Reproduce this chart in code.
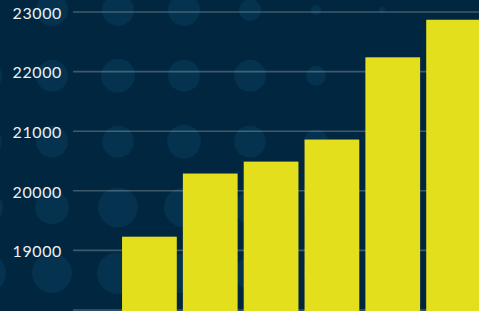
<!DOCTYPE html>
<html>
<head>
<meta charset="utf-8">
<script src="https://cdn.jsdelivr.net/npm/d3@7"></script>
<style>
  html, body { margin: 0; padding: 0; background: #01263f; }
  svg { display: block; }
</style>
</head>
<body>
<svg id="chart"></svg>
<script>
const categories = ["A", "B", "C", "D", "E", "F"];
const values = [19230, 20290, 20490, 20860, 22240, 22870];
const gridTicks = [18000, 19000, 20000, 21000, 22000, 23000];
const labelTicks = [19000, 20000, 21000, 22000, 23000];

// background dot radii, rows top->bottom, columns left->right
const dotRadii = [
  [0, 16, 16, 16, 11, 5, 3, 0],
  [16, 16, 17, 16, 16, 10, 6, 0],
  [16, 16, 16, 17, 16, 12, 0, 0],
  [17, 17, 20, 20, 16, 12, 0, 0],
  [20, 20, 21, 20, 16, 12, 0, 0]
];

const size = { width: 479, height: 311 };
const margin = { top: 12, right: 0, bottom: 1, left: 73 };

const BG = "#01263f";
const DOT = "#04324f";
const BAR = "#e3df1c";

const svg = d3
  .select("#chart")
  .attr("width", size.width)
  .attr("height", size.height);

svg
  .append("rect")
  .attr("width", size.width)
  .attr("height", size.height)
  .attr("fill", BG);

// decorative dot grid
const dots = svg.append("g").attr("fill", DOT);
dotRadii.forEach((row, i) => {
  row.forEach((r, j) => {
    if (!r) return;
    dots
      .append("circle")
      .attr("cx", -14 + j * 66)
      .attr("cy", 10 + i * 65.8)
      .attr("r", r);
  });
});

const y = d3
  .scaleLinear()
  .domain([18000, 23000])
  .range([size.height - margin.bottom, margin.top]);

const x = d3
  .scaleBand()
  .domain(categories)
  .range([119, 484])
  .paddingInner(0.1)
  .paddingOuter(0.05);

gridTicks.forEach((t) => {
  svg
    .append("line")
    .attr("stroke", "#ffffff")
    .attr("stroke-opacity", 0.24)
    .attr("stroke-width", 1.6)
    .attr("x1", margin.left)
    .attr("x2", size.width)
    .attr("y1", y(t))
    .attr("y2", y(t));
});

svg
  .append("g")
  .selectAll("text")
  .data(labelTicks)
  .enter()
  .append("text")
  .text((d) => d)
  .attr("x", 62)
  .attr("y", (d) => y(d))
  .attr("dy", "0.42em")
  .attr("text-anchor", "end")
  .attr("fill", "#eef2f5")
  .style("font-family", "Lato, 'Open Sans', sans-serif")
  .style("font-size", "16px")
  .style("letter-spacing", "0.6px");

svg
  .append("g")
  .attr("fill", BAR)
  .selectAll("rect")
  .data(values)
  .enter()
  .append("rect")
  .attr("x", (d, i) => x(categories[i]))
  .attr("width", x.bandwidth())
  .attr("y", (d) => y(d))
  .attr("height", (d) => y(18000) - y(d) + 2);
</script>
</body>
</html>
